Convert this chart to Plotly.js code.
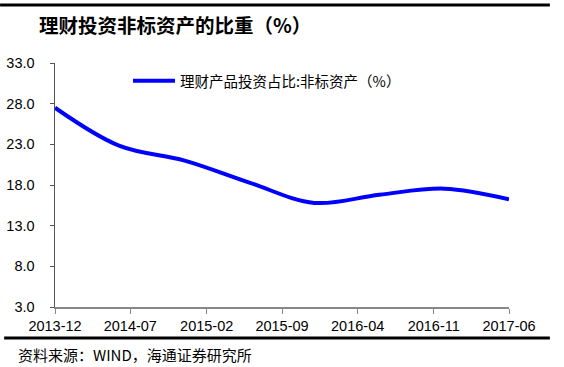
<!DOCTYPE html>
<html>
<head>
<meta charset="utf-8">
<script src="https://cdn.plot.ly/plotly-3.0.1.min.js"></script>
<style>html,body{margin:0;padding:0;background:#fff;}#chart{width:564px;height:367px;}</style>
</head>
<body>
<div id="chart"></div>
<script>
// Data (semi-annual)
var dates = ['2013-12-01','2014-06-01','2014-12-01','2015-06-01','2015-12-01','2016-06-01','2016-12-01','2017-06-01'];
var shareNonStd = [27.5, 22.8, 21.0, 18.3, 15.8, 16.8, 17.55, 16.25];
var seriesName = '理财产品投资占比:非标资产（%）';
var chartTitle = '理财投资非标资产的比重（%）';
var sourceNote = '资料来源：WIND，海通证券研究所';
var tickDates = ['2013-12-01','2014-07-01','2015-02-01','2015-09-01','2016-04-01','2016-11-01','2017-06-01'];
var tickLabels = ['2013-12','2014-07','2015-02','2015-09','2016-04','2016-11','2017-06'];
var yTicks = [3,8,13,18,23,28,33];
var yTickLabels = ['3.0','8.0','13.0','18.0','23.0','28.0','33.0'];

var lineColor = '#0000ff';
var trace = {
  x: dates, y: shareNonStd, name: seriesName, type: 'scatter', mode: 'lines',
  line: {color: lineColor, width: 4, shape: 'spline', smoothing: 1.0}
};

var layout = {
  width: 564, height: 367,
  margin: {l: 55, r: 55, t: 63, b: 60},
  paper_bgcolor: '#fff', plot_bgcolor: '#fff',
  showlegend: false,
  xaxis: {type: 'date', range: ['2013-12-01','2017-06-01'], tickmode: 'array', tickvals: tickDates, ticktext: tickLabels,
          showgrid: false, zeroline: false, showline: true, linecolor: '#888', linewidth: 1.5,
          ticks: 'outside', ticklen: 5, tickcolor: '#888', tickwidth: 1,
          tickfont: {family: 'Liberation Sans, Arial', size: 14.5, color: '#000'}},
  yaxis: {range: [3,33], tickmode: 'array', tickvals: yTicks, ticktext: yTickLabels,
          showgrid: false, zeroline: false, showline: true, linecolor: '#555', linewidth: 1.5,
          ticks: 'outside', ticklen: 4, tickcolor: '#555', tickwidth: 1, ticklabelstandoff: 12,
          tickfont: {family: 'Liberation Sans, Arial', size: 14.5, color: '#000'}},
  shapes: [
    {type: 'line', xref: 'paper', yref: 'paper', x0: -0.121, x1: 1.09, y0: 1.2377, y1: 1.2377, line: {color: '#000', width: 3}},
    {type: 'line', xref: 'paper', yref: 'paper', x0: -0.112, x1: 1.09, y0: -0.127, y1: -0.127, line: {color: '#000', width: 3}},
    // legend sample
    {type: 'line', xref: 'paper', yref: 'paper', x0: 0.1718, x1: 0.2643, y0: 0.9275, y1: 0.9275, line: {color: lineColor, width: 4}}
  ],
  annotations: [
    {text: '<b>' + chartTitle + '</b>', xref: 'paper', yref: 'paper', x: -0.0396, y: 1.156, xanchor: 'left', yanchor: 'middle',
     showarrow: false, font: {family: 'Noto Sans CJK SC', size: 19.5, color: '#000'}},
    {text: seriesName, xref: 'paper', yref: 'paper', x: 0.2709, y: 0.9275, xanchor: 'left', yanchor: 'middle',
     showarrow: false, font: {family: 'Noto Sans CJK SC', size: 14.5, color: '#000'}},
    {text: sourceNote, xref: 'paper', yref: 'paper', x: -0.085, y: -0.193, xanchor: 'left', yanchor: 'middle',
     showarrow: false, font: {family: 'Noto Sans CJK SC', size: 15, color: '#000'}}
  ]
};
Plotly.newPlot('chart', [trace], layout, {displayModeBar: false, staticPlot: true});
</script>
</body>
</html>
